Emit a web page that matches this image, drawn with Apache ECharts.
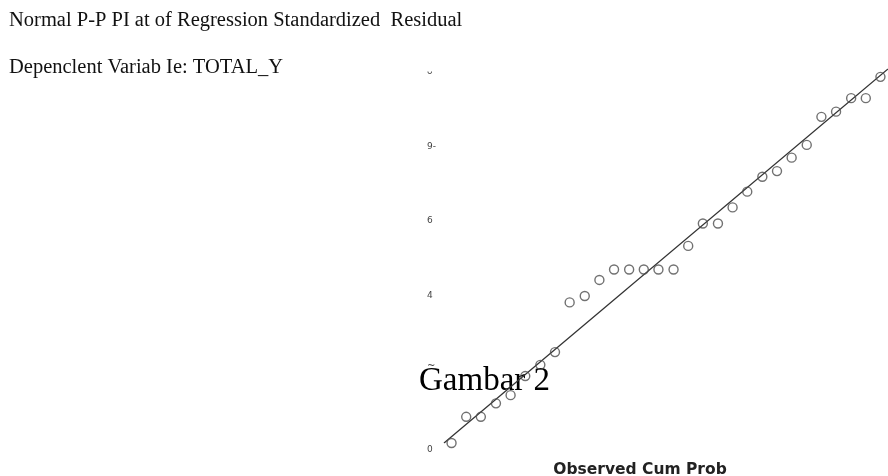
<!DOCTYPE html>
<html><head><meta charset="utf-8">
<script src="https://cdn.jsdelivr.net/npm/echarts@6/dist/echarts.min.js"></script>
<style>html,body{margin:0;padding:0;background:#fff}#c{width:888px;height:476px}</style>
</head><body><div id="c"></div>
<script>
const titleLines = ['Normal P-P PI at of Regression Standardized  Residual', 'Depenclent Variab Ie: TOTAL_Y'];
const captionText = 'Gambar 2';
const xAxisTitle = 'Observed Cum Prob';
const yTickValues = [0, 0.2, 0.4, 0.6, 0.8, 1.0];
const yTickLabels = ['0', '~', '4', '6', '9-', 'ᴗ'];
const observedCumProb = [0.017, 0.050, 0.083, 0.117, 0.150, 0.183, 0.217, 0.250, 0.283, 0.317,
  0.350, 0.383, 0.417, 0.450, 0.483, 0.517, 0.550, 0.583, 0.617, 0.650,
  0.683, 0.717, 0.750, 0.783, 0.817, 0.850, 0.883, 0.917, 0.950, 0.983];
const expectedCumProb = [0.000, 0.070, 0.070, 0.106, 0.128, 0.179, 0.209, 0.243, 0.376, 0.393,
  0.436, 0.464, 0.464, 0.464, 0.464, 0.464, 0.527, 0.587, 0.587, 0.630,
  0.672, 0.712, 0.727, 0.763, 0.797, 0.872, 0.886, 0.922, 0.922, 0.979];
const refLineX = [0, 1];
const refLineY = [0, 1];

const chart = echarts.init(document.getElementById('c'), null, {renderer: 'canvas'});
const points = observedCumProb.map((x, i) => [x, expectedCumProb[i]]);
const diag = refLineX.map((x, i) => [x, refLineY[i]]);
const labelStyleKey = ['zero', 'tilde', 'std', 'std', 'std', 'std'];
chart.setOption({
  animation: false,
  backgroundColor: '#ffffff',
  grid: {left: 444, right: -6, top: 69, bottom: 33, containLabel: false},
  xAxis: {type: 'value', min: 0, max: 1, show: false},
  yAxis: {
    type: 'value', min: 0, max: 1, interval: 0.2,
    axisLine: {show: false}, axisTick: {show: false}, splitLine: {show: false},
    axisLabel: {
      show: true, align: 'left', margin: 17,
      fontFamily: 'DejaVu Sans', fontSize: 9, color: '#444',
      formatter: function (v) {
        const idx = yTickValues.findIndex(t => Math.abs(t - v) < 1e-6);
        return idx >= 0 ? '{' + labelStyleKey[idx] + '|' + yTickLabels[idx] + '}' : '';
      },
      rich: {
        std: {fontFamily: 'DejaVu Sans', fontSize: 9, color: '#444', padding: [5, 0, 0, 0]},
        zero: {fontFamily: 'DejaVu Sans', fontSize: 9, color: '#444', padding: [14, 0, 0, 0]},
        tilde: {fontFamily: 'DejaVu Sans', fontSize: 10, color: '#444', padding: [0, 0, 4, 0]}
      }
    }
  },
  graphic: [
    {type: 'text', x: 9, y: 21, style: {text: titleLines[0], font: '20.5px "Liberation Serif"', fill: '#111', align: 'left', verticalAlign: 'middle'}},
    {type: 'text', x: 9, y: 68, style: {text: titleLines[1], font: '20.5px "Liberation Serif"', fill: '#111', align: 'left', verticalAlign: 'middle'}},
    {type: 'text', x: 419, y: 381, z: 1, style: {text: captionText, font: '33px "Liberation Serif"', fill: '#000', align: 'left', verticalAlign: 'middle'}},
    {type: 'text', x: 640, y: 470, style: {text: xAxisTitle, font: 'bold 15.5px "DejaVu Sans"', fill: '#222', align: 'center', verticalAlign: 'middle'}}
  ],
  series: [
    {type: 'line', data: diag, symbol: 'none', lineStyle: {color: '#333', width: 1.3}, z: 3, silent: true},
    {type: 'scatter', data: points, symbol: 'circle', symbolSize: 9,
     itemStyle: {color: 'rgba(0,0,0,0)', borderColor: '#4d4d4d', borderWidth: 1.4}, z: 4}
  ]
});
</script></body></html>
